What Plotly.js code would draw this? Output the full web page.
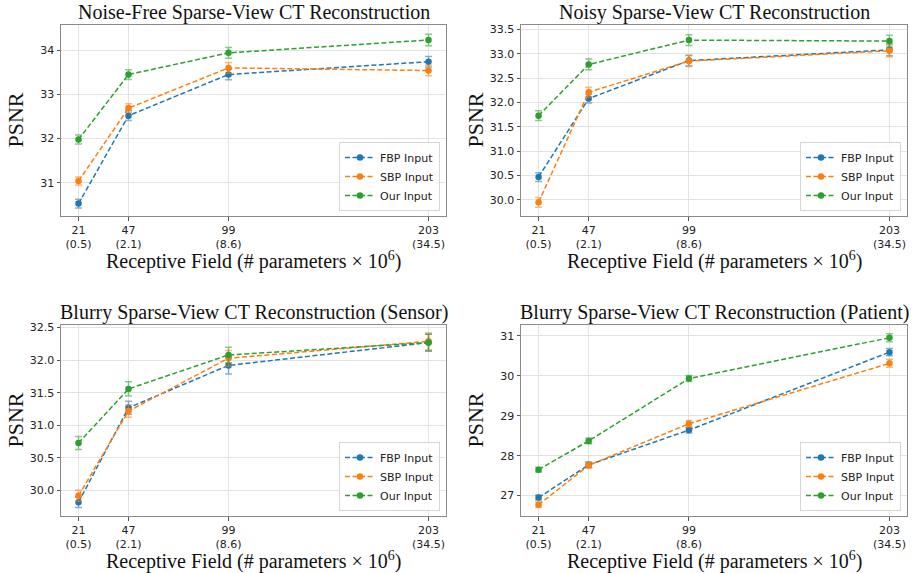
<!DOCTYPE html>
<html>
<head>
<meta charset="utf-8">
<script src="https://cdn.plot.ly/plotly-3.0.1.min.js"></script>
<style>html,body{margin:0;padding:0;background:#fff;}#chart{width:919px;height:573px;}</style>
</head>
<body>
<div id="chart"></div>
<script>
// ---- Data ----
const receptiveField = [21, 47, 99, 203];
const paramLabels = ['0.5', '2.1', '8.6', '34.5'];
const seriesNames = ['FBP Input', 'SBP Input', 'Our Input'];
const panelTitles = [
  'Noise-Free Sparse-View CT Reconstruction',
  'Noisy Sparse-View CT Reconstruction',
  'Blurry Sparse-View CT Reconstruction (Sensor)',
  'Blurry Sparse-View CT Reconstruction (Patient)'
];
const xTitle = 'Receptive Field (# parameters × 10<sup>6</sup>)';
const yTitle = 'PSNR';

// Noise-free
const noiseFreeFBP  = [30.53, 32.52, 33.45, 33.74];
const noiseFreeSBP  = [31.04, 32.69, 33.60, 33.54];
const noiseFreeOurs = [31.98, 33.45, 33.94, 34.23];
const noiseFreeFBPErr  = [0.10, 0.11, 0.12, 0.12];
const noiseFreeSBPErr  = [0.09, 0.10, 0.12, 0.12];
const noiseFreeOursErr = [0.10, 0.11, 0.12, 0.13];

// Noisy
const noisyFBP  = [30.47, 32.08, 32.86, 33.08];
const noisySBP  = [29.95, 32.21, 32.85, 33.06];
const noisyOurs = [31.73, 32.78, 33.28, 33.26];
const noisyFBPErr  = [0.09, 0.09, 0.11, 0.12];
const noisySBPErr  = [0.10, 0.10, 0.11, 0.12];
const noisyOursErr = [0.10, 0.11, 0.11, 0.12];

// Blurry (Sensor)
const sensorFBP  = [29.82, 31.27, 31.92, 32.27];
const sensorSBP  = [29.92, 31.22, 32.03, 32.29];
const sensorOurs = [30.73, 31.56, 32.08, 32.27];
const sensorFBPErr  = [0.08, 0.10, 0.13, 0.13];
const sensorSBPErr  = [0.085, 0.095, 0.12, 0.13];
const sensorOursErr = [0.10, 0.11, 0.12, 0.13];

// Blurry (Patient)
const patientFBP  = [26.95, 27.77, 28.64, 30.59];
const patientSBP  = [26.77, 27.76, 28.80, 30.31];
const patientOurs = [27.65, 28.37, 29.93, 30.95];
const patientFBPErr  = [0.06, 0.07, 0.07, 0.09];
const patientSBPErr  = [0.07, 0.07, 0.08, 0.10];
const patientOursErr = [0.06, 0.07, 0.075, 0.10];

// ---- Styling ----
const colors = ['#1f77b4', '#ff7f0e', '#2ca02c'];
const errColors = ['rgba(31,119,180,0.55)', 'rgba(255,127,14,0.55)', 'rgba(44,160,44,0.55)'];
const W = 919, H = 573;
const px = v => v / W;
const py = v => 1 - v / H;

const panels = [
  {vals: [noiseFreeFBP, noiseFreeSBP, noiseFreeOurs], errs: [noiseFreeFBPErr, noiseFreeSBPErr, noiseFreeOursErr],
   xd: [61, 446], yd: [25, 216], yr: [30.25, 34.57], dtick: 1, fmt: 'd'},
  {vals: [noisyFBP, noisySBP, noisyOurs], errs: [noisyFBPErr, noisySBPErr, noisyOursErr],
   xd: [521, 907], yd: [25, 216], yr: [29.67, 33.59], dtick: 0.5, fmt: '.1f'},
  {vals: [sensorFBP, sensorSBP, sensorOurs], errs: [sensorFBPErr, sensorSBPErr, sensorOursErr],
   xd: [61, 446], yd: [325, 516], yr: [29.61, 32.54], dtick: 0.5, fmt: '.1f'},
  {vals: [patientFBP, patientSBP, patientOurs], errs: [patientFBPErr, patientSBPErr, patientOursErr],
   xd: [521, 907], yd: [325, 516], yr: [26.49, 31.27], dtick: 1, fmt: 'd'}
];

const tickText = receptiveField.map((r, i) => r + '<br>(' + paramLabels[i] + ')');
const traces = [];
const layout = {
  width: W, height: H,
  margin: {l: 0, r: 0, t: 0, b: 0},
  paper_bgcolor: '#fff', plot_bgcolor: '#fff',
  font: {family: 'DejaVu Sans, sans-serif', size: 11, color: '#222'},
  showlegend: true,
  annotations: []
};

panels.forEach((p, k) => {
  const n = k + 1;
  const xa = n === 1 ? 'x' : 'x' + n;
  const ya = n === 1 ? 'y' : 'y' + n;
  const lg = n === 1 ? 'legend' : 'legend' + n;
  for (let s = 0; s < 3; s++) {
    traces.push({
      type: 'scatter', mode: 'lines+markers',
      x: receptiveField, y: p.vals[s],
      name: seriesNames[s], xaxis: xa, yaxis: ya, legend: lg,
      line: {color: colors[s], width: 1.5, dash: '5px,2.5px'},
      marker: {color: colors[s], size: 6.5},
      error_y: {type: 'data', array: p.errs[s], visible: true, color: errColors[s], thickness: 1.5, width: 3.5}
    });
  }
  const axCommon = {
    showgrid: true, gridcolor: '#e3e3e3', gridwidth: 1,
    showline: true, linecolor: '#8a8a8a', linewidth: 1, mirror: true,
    ticks: 'outside', ticklen: 3.5, tickcolor: '#555', tickwidth: 1,
    zeroline: false, automargin: false,
    tickfont: {family: 'DejaVu Sans, sans-serif', size: 11, color: '#222'}
  };
  layout[n === 1 ? 'xaxis' : 'xaxis' + n] = Object.assign({}, axCommon, {
    domain: [px(p.xd[0]), px(p.xd[1])], anchor: ya,
    range: [11.9, 212.1], tickmode: 'array', tickvals: receptiveField, ticktext: tickText
  });
  layout[n === 1 ? 'yaxis' : 'yaxis' + n] = Object.assign({}, axCommon, {
    domain: [py(p.yd[1]), py(p.yd[0])], anchor: xa,
    range: p.yr, dtick: p.dtick, tickformat: p.fmt
  });
  layout[lg] = {
    x: px(p.xd[1] - 6), y: py(p.yd[1] - 5), xanchor: 'right', yanchor: 'bottom',
    xref: 'paper', yref: 'paper',
    bgcolor: 'rgba(255,255,255,0.85)', bordercolor: '#d6d6d6', borderwidth: 1,
    font: {family: 'DejaVu Sans, sans-serif', size: 11, color: '#222'},
    tracegroupgap: 0, itemwidth: 30
  };
  const cx = (p.xd[0] + p.xd[1]) / 2;
  layout.annotations.push({
    text: panelTitles[k], xref: 'paper', yref: 'paper', x: px(cx), y: py(p.yd[0] - 13),
    xanchor: 'center', yanchor: 'middle', showarrow: false,
    font: {family: 'Liberation Serif, Times New Roman, serif', size: 20, color: '#111'}
  });
  layout.annotations.push({
    text: xTitle, xref: 'paper', yref: 'paper', x: px(cx), y: py(p.yd[1] + 44),
    xanchor: 'center', yanchor: 'middle', showarrow: false,
    font: {family: 'Liberation Serif, Times New Roman, serif', size: 20, color: '#111'}
  });
  layout.annotations.push({
    text: yTitle, xref: 'paper', yref: 'paper', x: px(p.xd[0] - 46), y: py((p.yd[0] + p.yd[1]) / 2),
    xanchor: 'center', yanchor: 'middle', showarrow: false, textangle: -90,
    font: {family: 'Liberation Serif, Times New Roman, serif', size: 22, color: '#111'}
  });
});

Plotly.newPlot('chart', traces, layout, {displayModeBar: false, staticPlot: true});
</script>
</body>
</html>
